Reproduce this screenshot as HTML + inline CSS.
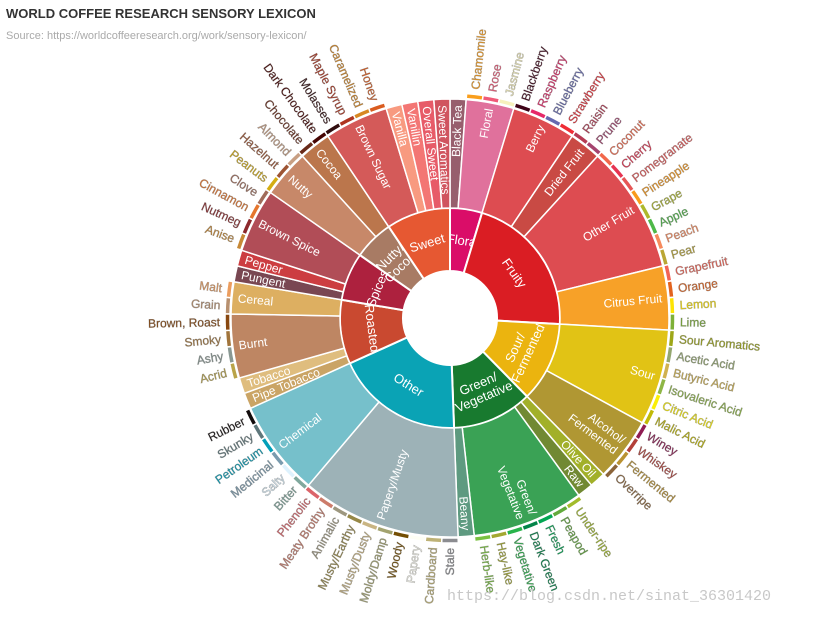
<!DOCTYPE html>
<html><head><meta charset="utf-8">
<style>
html,body{margin:0;padding:0;background:#fff;}
body{width:822px;height:617px;overflow:hidden;position:relative;font-family:"Liberation Sans",sans-serif;}
#title{position:absolute;left:6px;top:6px;font-size:13px;font-weight:bold;color:#333;}
#source{position:absolute;left:6px;top:30px;font-size:11px;color:#aaa;}
#wm{position:absolute;left:447px;top:588px;font-family:"Liberation Mono",monospace;font-size:15px;color:#c8c8c8;}
svg{position:absolute;left:0;top:0;}
</style></head>
<body>
<div id="title">WORLD COFFEE RESEARCH SENSORY LEXICON</div>
<div id="source">Source: https://worldcoffeeresearch.org/work/sensory-lexicon/</div>
<svg id="chart" width="822" height="617"></svg>
<div id="wm">https://blog.csdn.net/sinat_36301420</div>
<script>
const categories = ['Flora','Fruity','Sour/\nFermented','Green/\nVegetative','Other','Roasted','Spices','Nutty/\nCocoa','Sweet'];
const categoryColors = ['#da0d68','#da1d23','#ebb40f','#187a2f','#0aa3b5','#c94930','#ad213e','#a87b64','#e65832'];
const subNames = ['Black Tea','Floral','Berry','Dried Fruit','Other Fruit','Citrus Fruit','Sour','Alcohol/\nFermented','Olive Oil','Raw','Green/\nVegetative','Beany','Papery/Musty','Chemical','Pipe Tobacco','Tobacco','Burnt','Cereal','Pungent','Pepper','Brown Spice','Nutty','Cocoa','Brown Sugar','Vanilla','Vanillin','Overall Sweet','Sweet Aromatics'];
const subParent = [0,0,1,1,1,1,2,2,3,3,3,3,4,4,5,5,5,5,6,6,6,7,7,8,8,8,8,8];
const subOwnValue = [1,0,0,0,0,0,0,0,1,1,0,1,0,0,1,1,0,0,1,1,0,0,0,0,1,1,1,1];
const subColors = ['#975e6d','#e0719c','#dd4c51','#c94a44','#dd4c51','#f7a128','#e1c315','#b09733','#a2b029','#718933','#3aa255','#5e9a80','#9db2b7','#76c0cb','#caa465','#dfbd7e','#be8663','#ddaf61','#794752','#cc3d41','#b14d57','#c78869','#bb764c','#d45a59','#f89a80','#f37674','#e75b68','#d0545f'];
const leafNames = ['Chamomile','Rose','Jasmine','Blackberry','Raspberry','Blueberry','Strawberry','Raisin','Prune','Coconut','Cherry','Pomegranate','Pineapple','Grape','Apple','Peach','Pear','Grapefruit','Orange','Lemon','Lime','Sour Aromatics','Acetic Acid','Butyric Acid','Isovaleric Acid','Citric Acid','Malic Acid','Winey','Whiskey','Fermented','Overripe','Under-ripe','Peapod','Fresh','Dark Green','Vegetative','Hay-like','Herb-like','Stale','Cardboard','Papery','Woody','Moldy/Damp','Musty/Dusty','Musty/Earthy','Animalic','Meaty Brothy','Phenolic','Bitter','Salty','Medicinal','Petroleum','Skunky','Rubber','Acrid','Ashy','Smoky','Brown, Roast','Grain','Malt','Anise','Nutmeg','Cinnamon','Clove','Peanuts','Hazelnut','Almond','Chocolate','Dark Chocolate','Molasses','Maple Syrup','Caramelized','Honey'];
const leafParent = [1,1,1,2,2,2,2,3,3,4,4,4,4,4,4,4,4,5,5,5,5,6,6,6,6,6,6,7,7,7,7,10,10,10,10,10,10,10,12,12,12,12,12,12,12,12,12,12,13,13,13,13,13,13,16,16,16,16,17,17,20,20,20,20,21,21,21,22,22,23,23,23,23];
const leafValues = [1,1,1,1,1,1,1,1,1,1,1,1,1,1,1,1,1,1,1,1,1,1,1,1,1,1,1,1,1,1,1,1,1,1,1,1,1,1,1,1,1,1,1,1,1,1,1,1,1,1,1,1,1,1,1,1,1,1,1,1,1,1,1,1,1,1,1,1,1,1,1,1,1];
const leafColors = ['#f99e1c','#ef5a78','#f7f1bd','#3e0317','#e62969','#6569b0','#ef2d36','#b53b54','#a5446f','#f2684b','#e73451','#e65656','#f89a1c','#aeb92c','#4eb849','#f68a5c','#baa635','#f26355','#e2631e','#fde404','#7eb138','#9ea718','#94a76f','#d0b24f','#8eb646','#faef07','#c1ba07','#8f1c53','#b34039','#ba9232','#8b6439','#a2bb2b','#62aa3c','#03a653','#038549','#28b44b','#a3a830','#7ac141','#8b8c90','#beb276','#fefef4','#744e03','#a3a36f','#c9b583','#978847','#9d977f','#cc7b6a','#db646a','#80a89d','#def2fd','#7a9bae','#039fb8','#5e777b','#120c0c','#b9a449','#899893','#a1743b','#894810','#b7906f','#eb9d5f','#c78936','#8c292c','#e5762e','#a16c5a','#d4ad12','#9d5433','#c89f83','#692a19','#470604','#310d0f','#ae341f','#d78823','#da5c1f'];

const NS='http://www.w3.org/2000/svg';
const svg=document.getElementById('chart');
const cx=450, cy=318, R0=47, R1=110, R2=219, R3=225;

const subValues=subNames.map((n,i)=>subOwnValue[i]+leafValues.reduce((s,v,j)=>s+(leafParent[j]===i?v:0),0));
const catValues=categories.map((n,i)=>subValues.reduce((s,v,j)=>s+(subParent[j]===i?v:0),0));
const total=catValues.reduce((a,b)=>a+b,0);
const angleScale=v=>v/total*360;

function pt(r,a){const t=a*Math.PI/180;return [cx+r*Math.sin(t),cy-r*Math.cos(t)];}
function arcPath(r0,r1,a0,a1){
  const large=(a1-a0)>180?1:0;
  const p1=pt(r1,a0),p2=pt(r1,a1),p3=pt(r0,a1),p4=pt(r0,a0);
  return `M${p1[0]},${p1[1]}A${r1},${r1} 0 ${large} 1 ${p2[0]},${p2[1]}L${p3[0]},${p3[1]}A${r0},${r0} 0 ${large} 0 ${p4[0]},${p4[1]}Z`;
}
function addArc(r0,r1,a0,a1,color,name,bw){
  const p=document.createElementNS(NS,'path');
  p.setAttribute('d',arcPath(r0,r1,a0,a1));
  p.setAttribute('fill',color);
  p.setAttribute('stroke','#fff');
  p.setAttribute('stroke-width',bw);
  
  
  svg.appendChild(p);
}
function slug(s){return s.toLowerCase().replace(/[^a-z0-9]+/g,'-').replace(/^-|-$/g,'');}

let a=0;
categories.forEach((c,i)=>{
  const a1=a+angleScale(catValues[i]);
  addArc(R0,R1,a,a1,categoryColors[i],'segment-'+slug(c),2);
  const mid=(a+a1)/2, rm=(R0+R1)/2, [x,y]=pt(rm,mid);
  let rot=mid; if(mid>90&&mid<270) rot=mid-180;
  const t=document.createElementNS(NS,'text');
  
  
  t.setAttribute('transform',`translate(${x},${y}) rotate(${rot})`);
  t.setAttribute('fill','#fff');t.setAttribute('font-size','13');t.setAttribute('text-anchor','middle');
  const lines=c.split('\n');
  lines.forEach((ln,k)=>{const ts=document.createElementNS(NS,'tspan');ts.setAttribute('x',0);ts.setAttribute('y',(k-(lines.length-1)/2)*14+4.5);ts.textContent=ln;t.appendChild(ts);});
  svg.appendChild(t);
  a=a1;
});

a=0;
subNames.forEach((s,i)=>{
  const a1=a+angleScale(subValues[i]);
  addArc(R1,R2,a,a1,subColors[i],'segment-'+slug(s),1.5);
  const mid=(a+a1)/2;
  const right=mid<180;
  const [x,y]=pt(R2-6,mid);
  const rot=right?mid-90:mid+90;
  const t=document.createElementNS(NS,'text');
  
  
  t.setAttribute('transform',`translate(${x},${y}) rotate(${rot})`);
  t.setAttribute('fill','#fff');t.setAttribute('font-size','12');
  t.setAttribute('text-anchor',right?'end':'start');
  const lines=s.split('\n');
  lines.forEach((ln,k)=>{const ts=document.createElementNS(NS,'tspan');ts.setAttribute('x',0);ts.setAttribute('y',(k-(lines.length-1)/2)*13+4);ts.textContent=ln;t.appendChild(ts);});
  svg.appendChild(t);
  let la=a+angleScale(subOwnValue[i]);
  leafNames.forEach((l,j)=>{
    if(leafParent[j]!==i)return;
    const lb=la+angleScale(leafValues[j]);
    addArc(R2+1,R3,la,lb,leafColors[j],'leaf-'+slug(l),1.5);
    const m=(la+lb)/2, r=m<180;
    const [lx,ly]=pt(R3+5,m);
    const tt=document.createElementNS(NS,'text');
    
    
    tt.setAttribute('transform',`translate(${lx},${ly}) rotate(${r?m-90:m+90})`);
    tt.setAttribute('fill',leafColors[j]);
    tt.setAttribute('stroke','rgba(90,90,90,0.45)');tt.setAttribute('stroke-width','0.6');
    tt.setAttribute('font-size','12');
    tt.setAttribute('text-anchor',r?'start':'end');tt.setAttribute('dy','4');
    tt.textContent=l;
    svg.appendChild(tt);
    la=lb;
  });
  a=a1;
});
</script>
</body></html>
